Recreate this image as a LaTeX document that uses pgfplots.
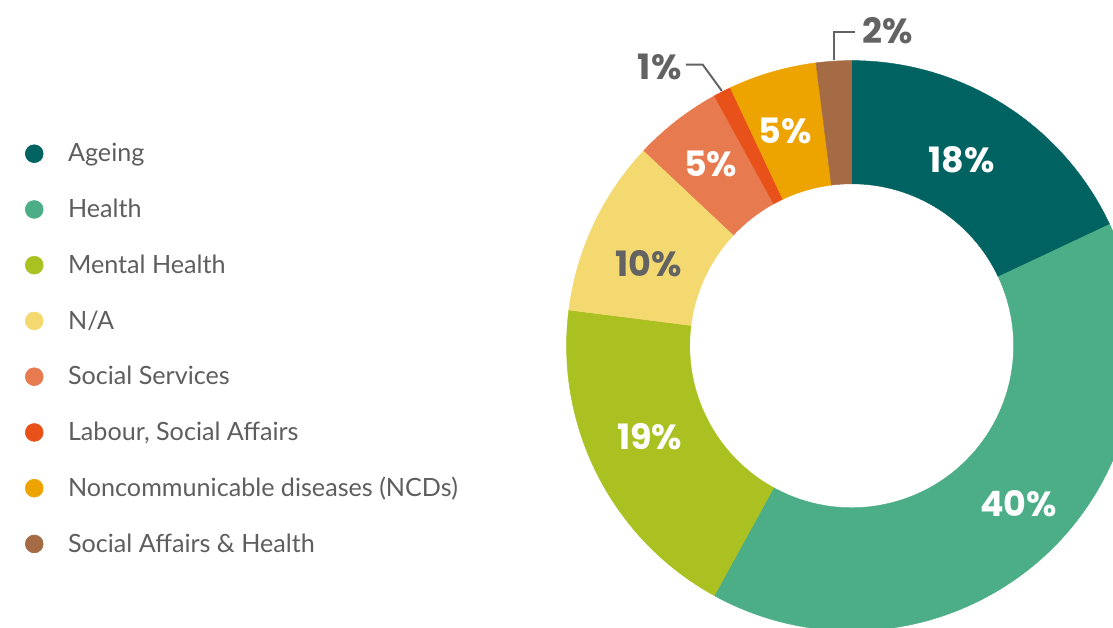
\documentclass[border=0pt]{standalone}
\usepackage{fontspec}
\setmainfont{Lato}
\newfontfamily\pctfont{Poppins}
\usepackage{pgfplots}
\usepackage{pgfplotstable}
\pgfplotsset{compat=1.18}

\definecolor{c0}{HTML}{016262}
\definecolor{c1}{HTML}{4BAE86}
\definecolor{c2}{HTML}{ABC121}
\definecolor{c3}{HTML}{F4D870}
\definecolor{c4}{HTML}{E87A50}
\definecolor{c5}{HTML}{E8511A}
\definecolor{c6}{HTML}{EDA300}
\definecolor{c7}{HTML}{A56B45}
\definecolor{txtgray}{HTML}{5E5E5E}
\definecolor{pctgray}{HTML}{636363}
% label colours (white on dark slices, grey on the pale one)
\colorlet{lc0}{white}
\colorlet{lc1}{white}
\colorlet{lc2}{white}
\colorlet{lc3}{pctgray}
\colorlet{lc4}{white}
\colorlet{lc6}{white}

% share of each topic, clockwise from 12 o'clock
\pgfplotstableread{
idx value
0 18
1 40
2 19
3 10
4 5
5 1
6 5
7 2
}\piedata

% ring geometry in pixel units (1 unit = 0.025cm)
\def\cx{850}
\def\cy{284}
\def\rout{287}
\def\rin{163}
\def\rmid{225}
% small nudges of the inside labels (dx, dy)
\def\dxA{-10}\def\dyA{-3}
\def\dxB{14}\def\dyB{5}
\def\dxC{-3}\def\dyC{11}
\def\dxD{-1}\def\dyD{-13}
\def\dxE{-4}\def\dyE{5}
\def\dxG{-4}\def\dyG{0}

\newcommand\pctlabel[2]{%
  \node[text=lc#1, font=\pctfont\bfseries\fontsize{25pt}{25pt}\selectfont, inner sep=0pt]
    at (axis cs:{\cx+\rmid*cos(\csname pm#1\endcsname)+\csname dx#2\endcsname},
                {\cy+\rmid*sin(\csname pm#1\endcsname)+\csname dy#2\endcsname})
    {\csname pv#1\endcsname\%};
}

\begin{document}
% start / end / middle angle of each slice
\def\cum{0}
\pgfplotsforeachungrouped \i in {0,...,7}{%
  \pgfplotstablegetelem{\i}{value}\of\piedata
  \let\val\pgfplotsretval
  \pgfmathsetmacro\sa{90-3.6*\cum}%
  \pgfmathsetmacro\cum{\cum+\val}%
  \pgfmathsetmacro\ea{90-3.6*\cum}%
  \pgfmathsetmacro\ma{(\sa+\ea)/2}%
  \expandafter\xdef\csname ps\i\endcsname{\sa}%
  \expandafter\xdef\csname pe\i\endcsname{\ea}%
  \expandafter\xdef\csname pm\i\endcsname{\ma}%
  \expandafter\xdef\csname pv\i\endcsname{\val}%
}
\begin{tikzpicture}
\begin{axis}[
    x=0.025cm, y=0.025cm,
    xmin=0, xmax=1113, ymin=0, ymax=632,
    hide axis,
    clip=true,
    legend image code/.code={\fill[#1] (0pt,0pt) circle[radius=6.4pt];},
    legend cell align=left,
    legend style={
        at={(axis cs:18,487)}, anchor=north west,
        draw=none, fill=none, inner sep=0pt, outer sep=0pt,
        row sep=26.1pt, column sep=17.6pt,
        font=\fontsize{18pt}{21pt}\selectfont,
        nodes={inner sep=0pt, text height=12.8pt, text depth=1pt, text=txtgray},
    },
]
\addlegendimage{c0}
\addlegendimage{c1}
\addlegendimage{c2}
\addlegendimage{c3}
\addlegendimage{c4}
\addlegendimage{c5}
\addlegendimage{c6}
\addlegendimage{c7}
\legend{Ageing, Health, Mental Health, N/A, Social Services,
        {Labour, Social Affairs}, Noncommunicable diseases (NCDs),
        Social Affairs \& Health}

% ring slices
\pgfplotsinvokeforeach{0,...,7}{%
  \fill[c#1, draw=c#1, line width=0.3pt]
    (axis cs:{\cx+\rout*cos(\csname ps#1\endcsname)},{\cy+\rout*sin(\csname ps#1\endcsname)})
    arc[start angle=\csname ps#1\endcsname, end angle=\csname pe#1\endcsname, radius=\rout*0.025cm]
    -- (axis cs:{\cx+\rin*cos(\csname pe#1\endcsname)},{\cy+\rin*sin(\csname pe#1\endcsname)})
    arc[start angle=\csname pe#1\endcsname, end angle=\csname ps#1\endcsname, radius=\rin*0.025cm]
    -- cycle;
}

% labels inside the ring
\pctlabel{0}{A}
\pctlabel{1}{B}
\pctlabel{2}{C}
\pctlabel{3}{D}
\pctlabel{4}{E}
\pctlabel{6}{G}

% small slices: labels outside with leader lines
\draw[pctgray, line width=1.4pt]
  (axis cs:{\cx+(\rout+1)*cos(\csname pm5\endcsname)},{\cy+(\rout+1)*sin(\csname pm5\endcsname)})
  -- (axis cs:700,567) -- (axis cs:683,567);
\node[anchor=east, text=pctgray, font=\pctfont\bfseries\fontsize{25pt}{25pt}\selectfont, inner sep=0pt]
  at (axis cs:679,565) {\csname pv5\endcsname\%};

\draw[pctgray, line width=1.4pt]
  (axis cs:{\cx+(\rout+1)*cos(\csname pm7\endcsname)},{\cy+(\rout+1)*sin(\csname pm7\endcsname)})
  |- (axis cs:853,600);
\node[anchor=west, text=pctgray, font=\pctfont\bfseries\fontsize{25pt}{25pt}\selectfont, inner sep=0pt]
  at (axis cs:861,601) {\csname pv7\endcsname\%};
\end{axis}
\pgfresetboundingbox
\path (current axis.south west) rectangle (current axis.north east);
\end{tikzpicture}
\end{document}
